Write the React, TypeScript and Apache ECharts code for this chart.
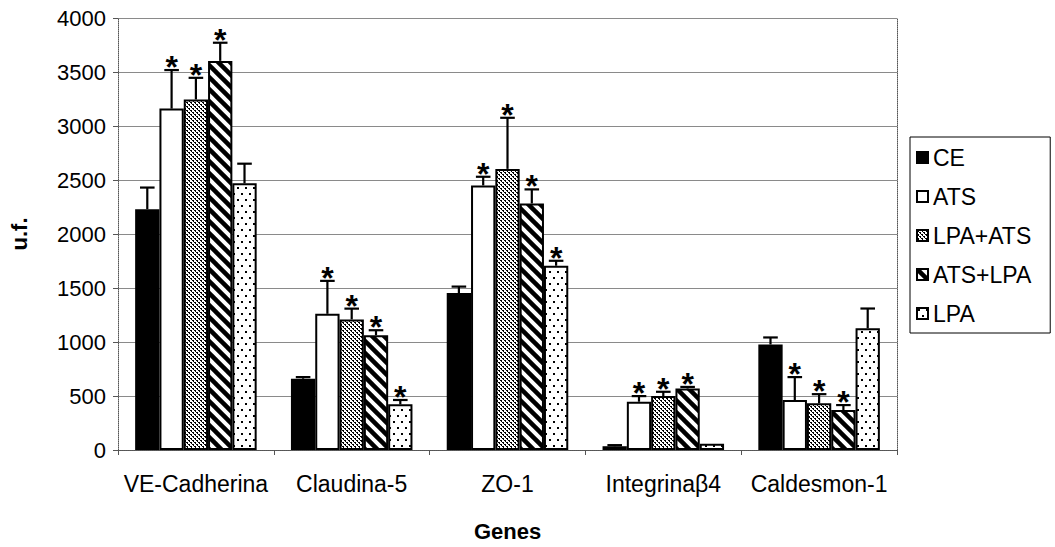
import React, { useEffect, useRef } from "react";
import * as echarts from "echarts";

// Gene categories along the x axis
const genes = ["VE-Cadherina", "Claudina-5", "ZO-1", "Integrinaβ4", "Caldesmon-1"];

// Treatment groups (legend order)
const groups = ["CE", "ATS", "LPA+ATS", "ATS+LPA", "LPA"];

// Mean fluorescence (u.f.) per gene for each treatment
const ceValues = [2230, 660, 1453, 35, 977];
const atsValues = [3161, 1261, 2450, 447, 462];
const lpaAtsValues = [3246, 1209, 2603, 499, 432];
const atsLpaValues = [3603, 1063, 2283, 569, 370];
const lpaValues = [2469, 423, 1706, 59, 1127];

// Upper error (SD) per gene for each treatment
const ceErrors = [200, 15, 60, 10, 65];
const atsErrors = [357, 305, 80, 52, 213];
const lpaAtsErrors = [200, 100, 473, 40, 85];
const atsLpaErrors = [168, 46, 130, 15, 46];
const lpaErrors = [182, 40, 46, 0, 183];

// Significance markers (1 = "*")
const ceSignif = [0, 0, 0, 0, 0];
const atsSignif = [1, 1, 1, 1, 1];
const lpaAtsSignif = [1, 1, 1, 1, 1];
const atsLpaSignif = [1, 1, 1, 1, 1];
const lpaSignif = [0, 1, 1, 0, 0];

// Y axis ticks
const yMin = 0;
const yMax = 4000;
const yStep = 500;

const valueSets = [ceValues, atsValues, lpaAtsValues, atsLpaValues, lpaValues];
const errorSets = [ceErrors, atsErrors, lpaAtsErrors, atsLpaErrors, lpaErrors];
const signifSets = [ceSignif, atsSignif, lpaAtsSignif, atsLpaSignif, lpaSignif];

const FONT = "'Liberation Sans', Arial, Helvetica, sans-serif";
const CATEGORY_GAP = 0.22;

type Painter = (ctx: CanvasRenderingContext2D, w: number, h: number) => void;

function makeTile(w: number, h: number, paint: Painter) {
  const c = document.createElement("canvas");
  c.width = w;
  c.height = h;
  const ctx = c.getContext("2d")!;
  ctx.fillStyle = "#ffffff";
  ctx.fillRect(0, 0, w, h);
  ctx.fillStyle = "#000000";
  ctx.strokeStyle = "#000000";
  paint(ctx, w, h);
  return {
    image: c.toDataURL(),
    repeat: "repeat",
    imageWidth: w,
    imageHeight: h,
  } as any;
}

function fills() {
  const denseDots = makeTile(4, 4, (ctx) => {
    ctx.fillRect(0, 0, 2, 1);
    ctx.fillRect(2, 2, 2, 1);
    ctx.fillRect(1, 1, 1, 1);
    ctx.fillRect(3, 3, 1, 1);
  });
  const stripes = makeTile(12, 12, (ctx, w) => {
    ctx.lineWidth = 4.5;
    for (let k = -1; k <= 1; k++) {
      ctx.beginPath();
      ctx.moveTo(-2, k * w - 2);
      ctx.lineTo(w + 2, w + k * w + 2);
      ctx.stroke();
    }
  });
  const sparseDots = makeTile(8, 12, (ctx) => {
    ctx.fillRect(1, 1, 2, 2);
    ctx.fillRect(5, 7, 2, 2);
  });
  return ["#000000", "#ffffff", denseDots, stripes, sparseDots];
}

export default function App() {
  const ref = useRef<HTMLDivElement>(null);

  useEffect(() => {
    if (!ref.current) return;
    const chart = echarts.init(ref.current, undefined, { renderer: "svg" });
    const palette = fills();

    const barSeries = groups.map((name, i) => ({
      name,
      type: "bar",
      data: valueSets[i],
      barGap: "0%",
      barCategoryGap: `${CATEGORY_GAP * 100}%`,
      itemStyle: {
        color: palette[i],
        borderColor: "#000000",
        borderWidth: 2,
      },
      z: 2,
    }));

    const errorSeries = groups.map((name, i) => ({
      name: `${name} error`,
      type: "custom",
      z: 3,
      silent: true,
      encode: { x: 0, y: 1 },
      data: genes.map((_, g) => [g, valueSets[i][g], errorSets[i][g], signifSets[i][g]]),
      renderItem: (params: any, api: any) => {
        const cat = api.value(0);
        const v = api.value(1);
        const e = api.value(2);
        const s = api.value(3);
        const band = api.size([1, 0])[0];
        const groupW = band * (1 - CATEGORY_GAP);
        const barW = groupW / groups.length;
        const center = api.coord([cat, 0]);
        const x = center[0] - groupW / 2 + barW * (i + 0.5);
        const yTop = api.coord([cat, v])[1];
        const yErr = api.coord([cat, v + e])[1];
        const capHalf = barW * 0.3;
        const children: any[] = [];
        const stroke = { stroke: "#000000", lineWidth: 2.2 };
        if (e > 0) {
          children.push({
            type: "line",
            shape: { x1: x, y1: yTop, x2: x, y2: yErr },
            style: stroke,
          });
          children.push({
            type: "line",
            shape: { x1: x - capHalf, y1: yErr, x2: x + capHalf, y2: yErr },
            style: stroke,
          });
        }
        if (s) {
          children.push({
            type: "text",
            x,
            y: yErr - 3,
            style: {
              text: "*",
              fill: "#000000",
              font: `bold 32px ${FONT}`,
              align: "center",
              verticalAlign: "middle",
            },
          });
        }
        return { type: "group", children };
      },
    }));

    const dotted = { color: "#555555", type: "dotted", width: 1 };

    chart.setOption({
      animation: false,
      backgroundColor: "#ffffff",
      textStyle: { fontFamily: FONT },
      grid: { left: 114, right: 158, top: 18, bottom: 91 },
      legend: {
        data: groups,
        orient: "vertical",
        left: 910,
        top: 137,
        padding: [9, 19, 8, 6],
        itemGap: 16,
        itemWidth: 11,
        itemHeight: 11,
        icon: "rect",
        borderColor: "#000000",
        borderWidth: 1,
        textStyle: { fontSize: 23, color: "#000000", fontFamily: FONT, lineHeight: 22 },
      },
      xAxis: [
        {
          type: "category",
          data: genes,
          position: "bottom",
          axisLine: { lineStyle: dotted },
          axisTick: { show: true, length: 5, lineStyle: { color: "#555555" } },
          axisLabel: { fontSize: 23, color: "#000000", margin: 22, interval: 0 },
          name: "Genes",
          nameLocation: "middle",
          nameGap: 70,
          nameTextStyle: { fontSize: 22, fontWeight: "bold", color: "#000000" },
        },
        {
          type: "category",
          data: genes,
          position: "top",
          axisLine: { lineStyle: dotted },
          axisTick: { show: false },
          axisLabel: { show: false },
        },
      ],
      yAxis: [
        {
          type: "value",
          min: yMin,
          max: yMax,
          interval: yStep,
          axisLine: { show: true, lineStyle: dotted },
          axisTick: { show: true, length: 5, lineStyle: { color: "#555555" } },
          axisLabel: {
            fontSize: 22,
            color: "#000000",
            margin: 12,
            formatter: (v: number) => String(v),
          },
          splitLine: { lineStyle: { color: "#8a8a8a", width: 1 } },
          name: "u.f.",
          nameLocation: "middle",
          nameRotate: 90,
          nameGap: 88,
          nameTextStyle: { fontSize: 22, fontWeight: "bold", color: "#000000" },
        },
        {
          type: "value",
          min: yMin,
          max: yMax,
          interval: yStep,
          position: "right",
          axisLine: { show: true, lineStyle: dotted },
          axisTick: { show: false },
          axisLabel: { show: false },
          splitLine: { show: false },
        },
      ],
      series: [...barSeries, ...errorSeries],
    });

    return () => chart.dispose();
  }, []);

  return <div ref={ref} style={{ width: 1055, height: 547, position: "absolute", left: 0, top: 0 }} />;
}
